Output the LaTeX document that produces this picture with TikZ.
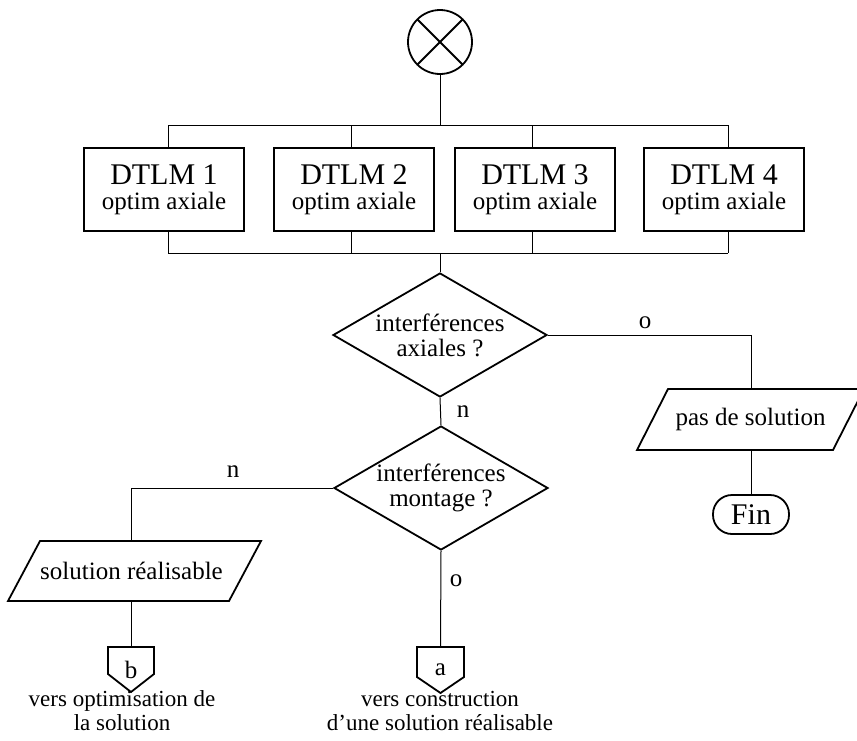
\documentclass[tikz,border=0pt]{standalone}
\usepackage{fontspec}
\setmainfont{Liberation Serif}
\usetikzlibrary{shapes.geometric,calc}
\begin{document}
\begin{tikzpicture}[x=1pt,y=-1pt,
  shp/.style={draw,line width=1.8pt},
  conn/.style={draw,line width=1pt},
  lbl/.style={inner sep=0pt,font=\fontsize{25}{22}\selectfont},
  dtlm/.style={shp,rectangle,minimum width=160,minimum height=83,inner sep=0pt,align=center,font=\fontsize{25}{22}\selectfont},
  dec/.style={shp,diamond,shape aspect=1.72,minimum width=214,minimum height=124,inner sep=-4pt,align=center,font=\fontsize{25}{22}\selectfont},
  holder/.style={inner sep=0pt,outer sep=0pt,align=center,font=\fontsize{25}{22}\selectfont},
  term/.style={shp,rectangle,rounded corners=19pt,minimum width=76,minimum height=39,inner sep=0pt,font=\fontsize{30}{30}\selectfont},
  note/.style={inner sep=0pt,align=center,font=\fontsize{23}{24}\selectfont}
]
\useasboundingbox (0,0) rectangle (857,740);

% start symbol
\node[shp,circle,minimum size=64,inner sep=0pt,outer sep=0pt] (start) at (440,42) {};
\draw[shp] (start.north west) -- (start.south east);
\draw[shp] (start.north east) -- (start.south west);

% DTLM boxes
\node[dtlm] (b1) at (164,189.5) {{\fontsize{30}{22}\selectfont DTLM 1}\\[3pt]optim axiale};
\node[dtlm] (b2) at (354,189.5) {{\fontsize{30}{22}\selectfont DTLM 2}\\[3pt]optim axiale};
\node[dtlm] (b3) at (535,189.5) {{\fontsize{30}{22}\selectfont DTLM 3}\\[3pt]optim axiale};
\node[dtlm] (b4) at (724,189.5) {{\fontsize{30}{22}\selectfont DTLM 4}\\[3pt]optim axiale};

% bus coordinates
\coordinate (tb) at (440,125);
\coordinate (t1) at (168,125);
\coordinate (t2) at (351,125);
\coordinate (t3) at (532,125);
\coordinate (t4) at (728,125);
\coordinate (bb) at (440,253);
\coordinate (u1) at (168,253);
\coordinate (u2) at (351,253);
\coordinate (u3) at (532,253);
\coordinate (u4) at (728,253);

% decisions
\node[dec] (d1) at (440,335) {interférences\\[3pt]axiales ?};
\node[dec] (d2) at (441,488) {interférences\\[3pt]montage ?};

% outputs
\node[holder,minimum width=196,minimum height=61] (ps) at (750.5,419.5) {pas de solution};
\draw[shp] ($(ps.south west)+(-15.5,0)$) -- ($(ps.north west)+(15.5,0)$) -- ($(ps.north east)+(15.5,0)$) -- ($(ps.south east)+(-15.5,0)$) -- cycle;
\node[term] (fin) at (751,514.5) {Fin};

\node[holder,minimum width=221,minimum height=60] (sr) at (134.5,571) {solution réalisable\hspace*{6pt}};
\draw[shp] ($(sr.south west)+(-16,0)$) -- ($(sr.north west)+(16,0)$) -- ($(sr.north east)+(16,0)$) -- ($(sr.south east)+(-16,0)$) -- cycle;

% off-page connectors
\node[holder,minimum width=46,minimum height=45] (pb) at (131,669.5) {b};
\draw[shp] (pb.north west) -- (pb.north east) -- ($(pb.north east)+(0,27)$) -- (pb.south) -- ($(pb.north west)+(0,27)$) -- cycle;
\node[holder,minimum width=47,minimum height=46] (pa) at (440.5,670) {a};
\draw[shp] (pa.north west) -- (pa.north east) -- ($(pa.north east)+(0,30)$) -- (pa.south) -- ($(pa.north west)+(0,30)$) -- cycle;

\node[note] (nb) at (122,711) {vers optimisation de\\la solution};
\node[note] (na) at (440,711) {vers construction\\d’une solution réalisable};

% connectors
\coordinate (k1) at (131,488);
\coordinate (k2) at (751,335);
\draw[conn] (start.south) -- (tb);
\draw[conn] (t1) -- (t4);
\draw[conn] (t1) -- (t1 |- b1.north);
\draw[conn] (t2) -- (t2 |- b2.north);
\draw[conn] (t3) -- (t3 |- b3.north);
\draw[conn] (t4) -- (t4 |- b4.north);
\draw[conn] (u1 |- b1.south) -- (u1);
\draw[conn] (u2 |- b2.south) -- (u2);
\draw[conn] (u3 |- b3.south) -- (u3);
\draw[conn] (u4 |- b4.south) -- (u4);
\draw[conn] (u1) -- (u4);
\draw[conn] (bb) -- (d1.north);
\draw[conn] (d1.south) -- (d2.north);
\draw[conn] (d1.east) -- (k2) -- (k2 |- ps.north);
\draw[conn] (k2 |- ps.south) -- (fin.north);
\draw[conn] (d2.west) -- (k1) -- (k1 |- sr.north);
\draw[conn] (k1 |- sr.south) -- (pb.north);
\draw[conn] (d2.south) -- (pa.north);

% branch labels
\node[lbl] (l1) at (645,323) {o};
\node[lbl] (l2) at (463,412) {n};
\node[lbl] (l3) at (233,472) {n};
\node[lbl] (l4) at (456,581) {o};
\end{tikzpicture}
\end{document}
